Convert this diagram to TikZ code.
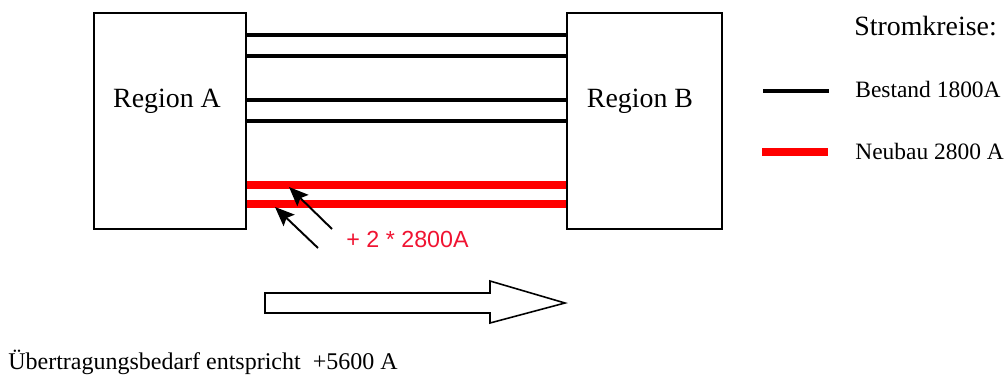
\documentclass[tikz,border=0pt]{standalone}
\usepackage{fontspec}
\setmainfont{Liberation Serif}
\newfontfamily\arialfont{Liberation Sans}
\usetikzlibrary{arrows.meta,calc}
\definecolor{cred}{RGB}{255,0,0}
\definecolor{clabel}{RGB}{240,20,50}
\begin{document}
\begin{tikzpicture}[x=0.567pt,y=-0.567pt,
  regionbox/.style={draw=black,line width=1.3pt,fill=white,inner sep=0pt},
  oldline/.style={line width=2.1pt,black},
  newline/.style={line width=4pt,cred},
  regtext/.style={font=\fontsize{15.8}{18}\selectfont,inner sep=0pt},
  legtext/.style={font=\fontsize{13.3}{16}\selectfont,inner sep=0pt,anchor=west},
  pointer/.style={line width=1.1pt,-{Stealth[length=11pt,width=9pt,inset=2pt]}}]
\useasboundingbox (0,0) rectangle (1007,376);
% boxes
\node[regionbox,minimum width=152*0.567pt,minimum height=216*0.567pt] (A) at (170,121) {};
\node[regionbox,minimum width=155*0.567pt,minimum height=216*0.567pt] (B) at (644.5,121) {};
\node[regtext] (tA) at (167,101) {Region A};
\node[regtext] (tB) at (640,101) {Region B};
% existing circuits
\foreach \yy in {35,56,100,121}{
  \draw[oldline] (A.east |- 0,\yy) -- (B.west |- 0,\yy);
}
% new circuits
\foreach \yy in {185,204}{
  \draw[newline] (A.east |- 0,\yy) -- (B.west |- 0,\yy);
}
% pointers
\coordinate (p1s) at (332,229);
\coordinate (p1e) at (289,187);
\coordinate (p2s) at (318,248);
\coordinate (p2e) at (275,207);
\draw[pointer] (p1s) -- (p1e);
\draw[pointer] (p2s) -- (p2e);
\node[font=\arialfont\fontsize{13.2}{16}\selectfont,text=clabel,inner sep=0pt,anchor=west] (lab) at (346,239) {+ 2 * 2800A};
% big arrow
\draw[line width=0.9pt,fill=white] (265,293) coordinate (ba) -- (490,293) -- (490,281) -- (565,303) -- (490,323) -- (490,313) -- (265,313) -- cycle;
% bottom text
\node[legtext,font=\fontsize{13.6}{16}\selectfont] (bottom) at (8,362) {Übertragungsbedarf entspricht\ \ +5600 A};
% legend
\node[font=\fontsize{15.8}{18}\selectfont,inner sep=0pt,anchor=west] (lt) at (854,26) {Stromkreise:};
\node[legtext] (l1) at (855,89) {Bestand 1800A};
\node[legtext] (l2) at (855,151) {Neubau 2800 A};
\coordinate (l1a) at (763,91);
\coordinate (l1b) at (829,91);
\coordinate (l2a) at (762,152);
\coordinate (l2b) at (828,152);
\draw[oldline] (l1a) -- (l1b);
\draw[newline] (l2a) -- (l2b);
\end{tikzpicture}
\end{document}
